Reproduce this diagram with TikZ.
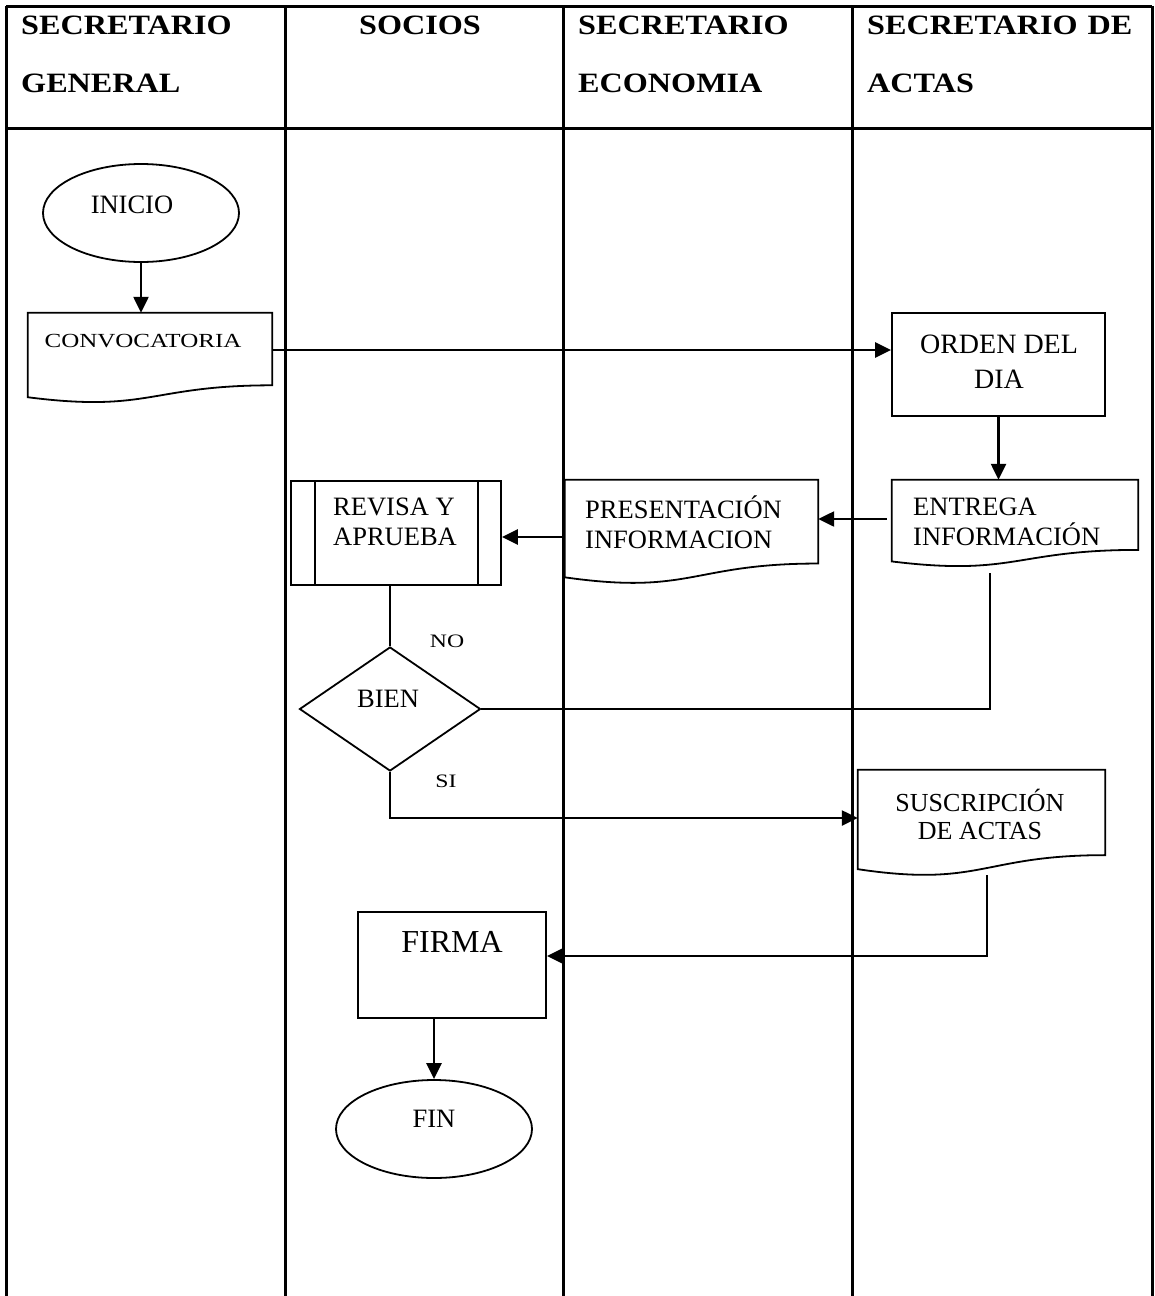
\documentclass[tikz,border=0pt]{standalone}
\usepackage{fontspec}
\setmainfont{Liberation Serif}
\newfontfamily\hdrfont[FakeStretch=1.15]{Liberation Serif}
\newfontfamily\widefont[FakeStretch=1.25]{Liberation Serif}
\usetikzlibrary{arrows.meta,shapes.geometric,calc}
\newcommand\docpath[1]{%
 \draw[shp] let \p1=(#1.north west), \p2=(#1.south east) in
 (\x1,\y1) -- (\x2,\y1) -- (\x2,{\y1+0.802*(\y2-\y1)})
 .. controls ({0.5*(\x1+\x2)},{\y1+0.802*(\y2-\y1)}) and ({0.5*(\x1+\x2)},{\y1+1.107*(\y2-\y1)}) .. (\x1,{\y1+0.934*(\y2-\y1)}) -- cycle;}
\tikzset{
 tbl/.style={line width=3pt},
 shp/.style={draw, line width=1.8pt},
 con/.style={line width=2.4pt},
 arr/.style={con, -{Triangle[length=16pt,width=15pt]}},
 box/.style={rectangle, inner sep=0pt, draw=none},
 hdr/.style={inner sep=0pt, anchor=base west, font=\hdrfont\bfseries\fontsize{28pt}{30pt}\selectfont},
 txt/.style={inner sep=0pt, font=\fontsize{26.5pt}{30pt}\selectfont},
}
\begin{document}
\begin{tikzpicture}[x=1pt,y=-1pt]
\useasboundingbox (0,0) rectangle (1155,1296);
% table
\draw[tbl] (6,6) -- (1152,6);
\draw[tbl] (6,128) -- (1152,128);
\foreach \xx in {6,285,563,852,1152} \draw[tbl] (\xx,6) -- (\xx,1296);
% headers
\node[hdr] (h1a) at (21,34) {SECRETARIO};
\node[hdr] (h1b) at (21,92) {GENERAL};
\node[hdr, anchor=base] (h2) at (420,34) {SOCIOS};
\node[hdr] (h3a) at (578,34) {SECRETARIO};
\node[hdr] (h3b) at (578,92) {ECONOMIA};
\node[hdr] (h4a) at (867,34) {SECRETARIO\hspace{10pt}DE};
\node[hdr] (h4b) at (867,92) {ACTAS};
% shapes
\node[ellipse, shp, minimum width=196pt, minimum height=98pt, inner sep=0pt] (inicio) at (141,213) {};
\node[box, minimum width=244pt, minimum height=90pt] (conv) at (150,358) {};
\docpath{conv}
\node[box, shp, minimum width=213pt, minimum height=103pt] (orden) at (998.5,364.5) {};
\node[box, minimum width=246pt, minimum height=87pt] (entrega) at (1015,523.5) {};
\docpath{entrega}
\node[box, minimum width=253pt, minimum height=104pt] (present) at (691.5,532) {};
\docpath{present}
\node[box, shp, minimum width=210pt, minimum height=104pt] (revisa) at (396,533) {};
\draw[shp] ([xshift=25pt]revisa.north west) -- ([xshift=25pt]revisa.south west);
\draw[shp] ([xshift=-24pt]revisa.north east) -- ([xshift=-24pt]revisa.south east);
\node[diamond, shp, minimum width=181pt, minimum height=124pt, inner sep=0pt] (bien) at (390,709) {};
\node[box, minimum width=247pt, minimum height=106pt] (sus) at (981.5,823) {};
\docpath{sus}
\node[box, shp, minimum width=188pt, minimum height=106pt] (firma) at (452,965) {};
\node[ellipse, shp, minimum width=196pt, minimum height=98pt, inner sep=0pt] (fin) at (434,1129) {};
% texts
\node[txt] (tinicio) at (132,205) {INICIO};
\node[inner sep=0pt, font=\widefont\fontsize{20pt}{24pt}\selectfont] (tconv) at (143,341) {CONVOCATORIA};
\node[txt, font=\fontsize{28pt}{35pt}\selectfont, align=center] (torden) at (999,362) {ORDEN DEL\\DIA};
\node[txt, anchor=west, align=left] (tentrega) at (913,522) {ENTREGA\\INFORMACIÓN};
\node[txt, anchor=west, align=left] (tpresent) at (585,522) {PRESENTACIÓN\\INFORMACION};
\node[txt, anchor=west, align=left] (trevisa) at (333,522) {REVISA Y\\APRUEBA};
\node[txt] (tbien) at (388,699) {BIEN};
\node[inner sep=0pt, font=\widefont\fontsize{19pt}{22pt}\selectfont] (tno) at (447,641) {NO};
\node[inner sep=0pt, font=\widefont\fontsize{19pt}{22pt}\selectfont] (tsi) at (446,781) {SI};
\node[txt, align=center, font=\fontsize{26pt}{28pt}\selectfont] (tsus) at (980,814) {SUSCRIPCIÓN\\DE ACTAS};
\node[txt, font=\fontsize{32pt}{36pt}\selectfont] (tfirma) at (452,942) {FIRMA};
\node[txt] (tfin) at (434,1119) {FIN};
% connectors
\coordinate (r1) at (0,350);
\coordinate (r2) at (0,519);
\coordinate (r3) at (0,537);
\coordinate (r4) at (0,818);
\coordinate (r5) at (0,956);
\coordinate (e1) at (990,573);
\coordinate (s1) at (987,875);
\draw[arr] (inicio.south) -- (inicio.south |- conv.north);
\draw[arr] (conv.east |- r1) -- (orden.west |- r1);
\draw[arr] (orden.south) -- (orden.south |- entrega.north);
\draw[arr, shorten <=5pt] (entrega.west |- r2) -- (present.east |- r2);
\draw[arr] (present.west |- r3) -- (revisa.east |- r3);
\draw[con] (revisa.south -| bien.north) -- (bien.north);
\draw[con] (bien.east) -| (e1);
\draw[arr] (bien.south) |- (sus.west |- r4);
\draw[arr] (s1) |- (firma.east |- r5);
\draw[arr] (firma.south -| fin.north) -- (fin.north);
\end{tikzpicture}
\end{document}
